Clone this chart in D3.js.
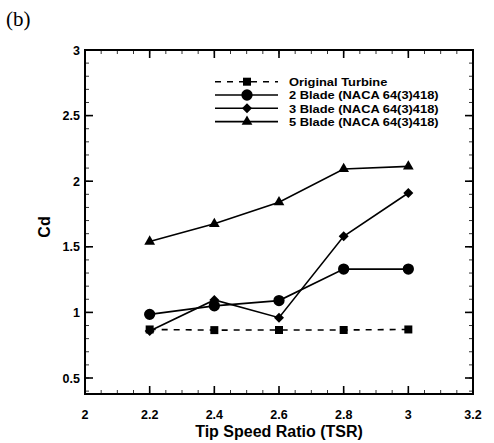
<!DOCTYPE html>
<html>
<head>
<meta charset="utf-8">
<script src="https://cdn.jsdelivr.net/npm/d3@7"></script>
<style>
  body { margin: 0; background: #fff; }
  svg { display: block; }
</style>
</head>
<body>
<script>
// Chart data.
var tsr = [2.2, 2.4, 2.6, 2.8, 3.0];
var original = [0.87, 0.865, 0.866, 0.866, 0.87];
var blade2 = [0.985, 1.05, 1.09, 1.33, 1.33];
var blade3 = [0.858, 1.095, 0.96, 1.58, 1.91];
var blade5 = [1.54, 1.675, 1.84, 2.093, 2.113];
var xTicks = [2, 2.2, 2.4, 2.6, 2.8, 3, 3.2];
var yTicks = [0.5, 1, 1.5, 2, 2.5, 3];
var seriesNames = ["Original Turbine", "2 Blade (NACA 64(3)418)", "3 Blade (NACA 64(3)418)", "5 Blade (NACA 64(3)418)"];

var width = 494, height = 443;
// Plot frame edges (note: "top" is reserved by window, so use plot* names).
var plotLeft = 85, plotRight = 473, plotTop = 50, plotBottom = 394;

var svg = d3.select("body").append("svg")
    .attr("width", width)
    .attr("height", height);

var x = d3.scaleLinear().domain([2, 3.2]).range([plotLeft, plotRight]);
var y = d3.scaleLinear().domain([0.5, 3]).range([378, plotTop]);
var yMin = y.invert(plotBottom);

// Minor ticks first.
var minorX = d3.range(2, 3.2001, 0.05);
var minorY = d3.range(0.4, 3.0001, 0.1).filter(function(d) { return d >= yMin; });

function tickLinesX(data, y0, len, w) {
    svg.append("g").selectAll("line").data(data).enter().append("line")
        .attr("x1", function(d) { return x(d); }).attr("x2", function(d) { return x(d); })
        .attr("y1", y0).attr("y2", y0 + len)
        .attr("stroke", "#000").attr("stroke-width", w);
}
function tickLinesY(data, x0, len, w) {
    svg.append("g").selectAll("line").data(data).enter().append("line")
        .attr("x1", x0).attr("x2", x0 + len)
        .attr("y1", function(d) { return y(d); }).attr("y2", function(d) { return y(d); })
        .attr("stroke", "#000").attr("stroke-width", w);
}

tickLinesX(minorX, plotBottom, -4, 0.8);
tickLinesX(minorX, plotTop, 4, 0.8);
tickLinesY(minorY, plotLeft, 4, 0.8);
tickLinesY(minorY, plotRight, -4, 0.8);

// Major ticks.
tickLinesX(xTicks, plotBottom, -8, 1.6);
tickLinesX(xTicks, plotTop, 8, 1.6);
tickLinesY(yTicks, plotLeft, 8, 1.6);
tickLinesY(yTicks, plotRight, -8, 1.6);

// Frame, four separate edges.
var edges = [
    [plotLeft, plotTop, plotRight, plotTop],
    [plotRight, plotTop, plotRight, plotBottom],
    [plotRight, plotBottom, plotLeft, plotBottom],
    [plotLeft, plotBottom, plotLeft, plotTop]
];
svg.append("g").selectAll("line").data(edges).enter().append("line")
    .attr("x1", function(d) { return d[0]; }).attr("y1", function(d) { return d[1]; })
    .attr("x2", function(d) { return d[2]; }).attr("y2", function(d) { return d[3]; })
    .attr("stroke", "#000").attr("stroke-width", 2)
    .attr("stroke-linecap", "square");

// Tick labels.
svg.append("g").selectAll("text").data(xTicks).enter().append("text")
    .attr("x", function(d) { return x(d); })
    .attr("y", 419)
    .attr("text-anchor", "middle")
    .style("font", "bold 12.5px 'Liberation Sans', Arial, sans-serif")
    .text(function(d) { return d3.format("")(d); });
svg.append("g").selectAll("text").data(yTicks).enter().append("text")
    .attr("x", plotLeft - 5)
    .attr("y", function(d) { return y(d) + 4.5; })
    .attr("text-anchor", "end")
    .style("font", "bold 12.5px 'Liberation Sans', Arial, sans-serif")
    .text(function(d) { return d3.format("")(d); });

// Axis titles.
svg.append("text")
    .attr("x", x(2.6)).attr("y", 437)
    .attr("text-anchor", "middle")
    .style("font", "bold 16px 'Liberation Sans', Arial, sans-serif")
    .text("Tip Speed Ratio (TSR)");
svg.append("text")
    .attr("transform", "translate(50,227) rotate(-90)")
    .attr("text-anchor", "middle")
    .style("font", "bold 16px 'Liberation Sans', Arial, sans-serif")
    .text("Cd");

svg.append("text")
    .attr("x", 6).attr("y", 26)
    .style("font", "21px 'Liberation Serif', 'Times New Roman', serif")
    .text("(b)");

// Series lines and markers. Diamond = square turned 45 degrees.
var line = d3.line()
    .x(function(d, i) { return x(tsr[i]); })
    .y(function(d) { return y(d); });

var series = [
    { values: original, dash: "6,6", symbol: d3.symbolSquare, size: 64, rot: 0 },
    { values: blade2, dash: null, symbol: d3.symbolCircle, size: 100, rot: 0 },
    { values: blade3, dash: null, symbol: d3.symbolSquare, size: 50, rot: 45 },
    { values: blade5, dash: null, symbol: d3.symbolTriangle, size: 50, rot: 0 }
];

series.forEach(function(s) {
    svg.append("path")
        .attr("d", line(s.values))
        .attr("fill", "none")
        .attr("stroke", "#000")
        .attr("stroke-width", 1.6)
        .attr("stroke-dasharray", s.dash);
});
series.forEach(function(s) {
    svg.append("g").selectAll("path").data(s.values).enter().append("path")
        .attr("transform", function(d, i) { return "translate(" + x(tsr[i]) + "," + y(d) + ") rotate(" + s.rot + ")"; })
        .attr("d", d3.symbol().type(s.symbol).size(s.size))
        .attr("fill", "#000");
});

// Legend. Rows sit tight, so the text is a bit small and widened.
var legend = svg.append("g");
series.forEach(function(s, i) {
    var ly = 81.7 + i * 13.3;
    legend.append("line")
        .attr("x1", 215).attr("x2", 278)
        .attr("y1", ly).attr("y2", ly)
        .attr("stroke", "#000").attr("stroke-width", 1.6)
        .attr("stroke-dasharray", s.dash ? "6,6" : null);
    legend.append("path")
        .attr("transform", "translate(247," + ly + ") rotate(" + s.rot + ")")
        .attr("d", d3.symbol().type(s.symbol).size(s.size))
        .attr("fill", "#000");
    legend.append("text")
        .attr("transform", "translate(289," + (ly + 4.2) + ") scale(1.12,1)")
        .style("font", "bold 11.5px 'Liberation Sans', Arial, sans-serif")
        .text(seriesNames[i]);
});
</script>
</body>
</html>
